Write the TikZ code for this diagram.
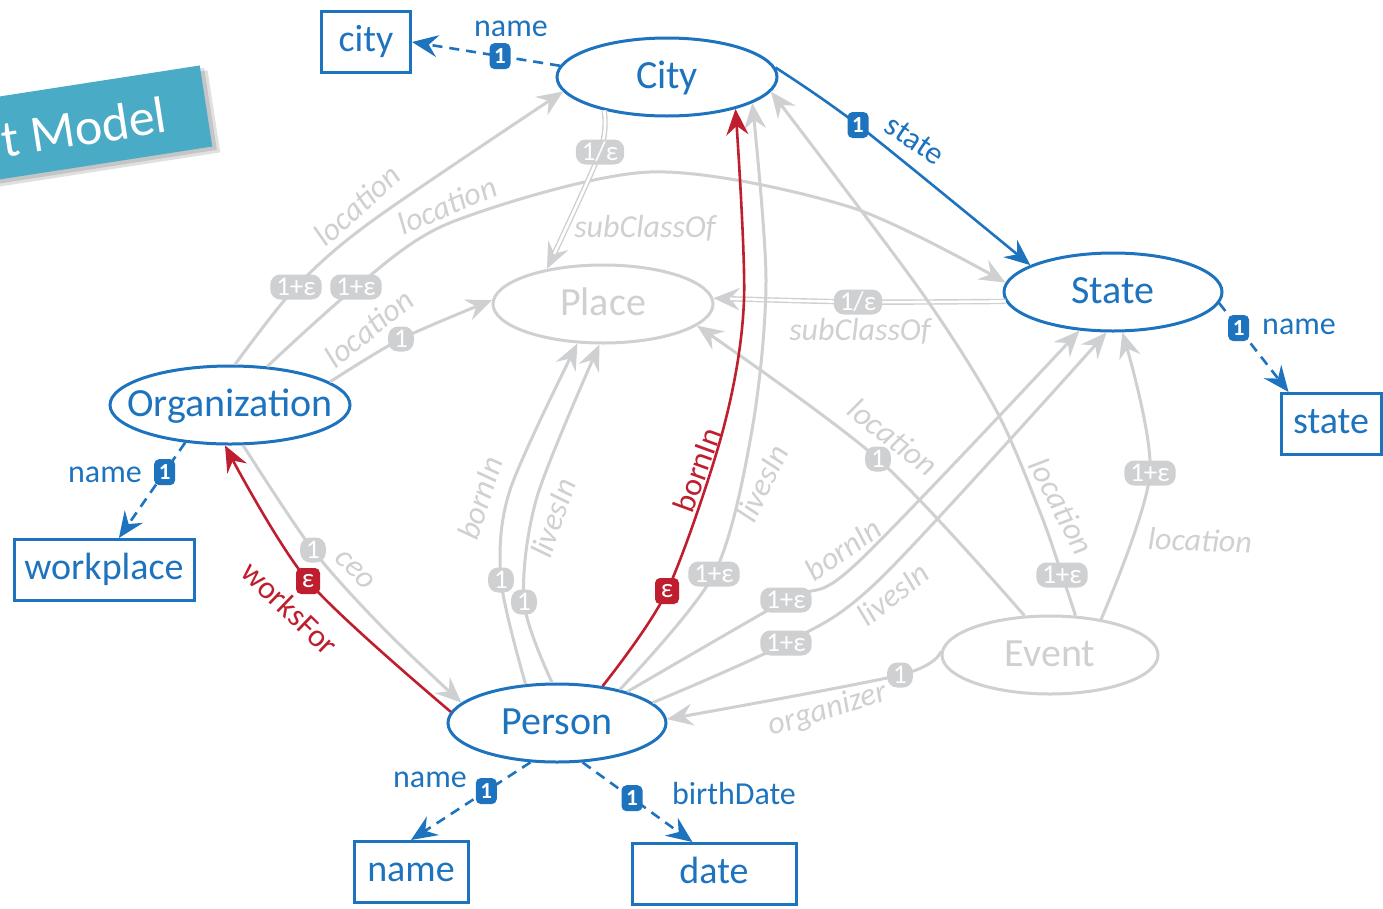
\documentclass[tikz,border=0pt]{standalone}
\usepackage{fontspec}
\setmainfont{Carlito}
\usetikzlibrary{arrows.meta,shapes.geometric}

\definecolor{kblue}{HTML}{1E73BE}
\definecolor{kred}{HTML}{BE1E2D}
\definecolor{kgrey}{HTML}{CFD0D2}
\definecolor{kteal}{HTML}{4AABC6}

% class names are centred without widening the ellipse
\newcommand\ctr[1]{\makebox[0pt]{#1}}

\begin{document}
\begin{tikzpicture}[x=1pt,y=-1pt,
  mytip/.style={-{Stealth[length=26pt,width=22pt,inset=9pt]}},
  cls/.style={ellipse, draw=kblue, fill=white, line width=3pt, text=kblue, inner sep=0pt,
    minimum width=220pt, minimum height=78pt, text height=24pt, text depth=2pt,
    font=\fontsize{40}{44}\selectfont},
  gcls/.style={cls, draw=kgrey, text=kgrey},
  lit/.style={rectangle, draw=kblue, line width=3pt, text=kblue, inner sep=0pt,
    minimum height=61pt, text height=20pt, text depth=2pt, font=\fontsize{38}{42}\selectfont},
  gedge/.style={draw=kgrey, line width=3pt, mytip},
  dbl/.style={draw=kgrey, line width=5.4pt, mytip,
    postaction={draw=white, line width=2.6pt, -, shorten >=19pt}},
  bedge/.style={draw=kblue, line width=2.6pt, mytip},
  bdash/.style={bedge, dash pattern=on 10pt off 7pt},
  redge/.style={draw=kred, line width=2.6pt, mytip},
  gbadge/.style={fill=kgrey, text=white, rounded corners=10pt, inner xsep=6pt, inner ysep=0pt,
    minimum height=25pt, minimum width=21pt, text height=18pt, text depth=1pt,
    font=\fontsize{27}{27}\selectfont},
  bbadge/.style={fill=kblue, text=white, rounded corners=5pt, inner sep=0pt,
    minimum width=21pt, minimum height=26pt, font=\bfseries\fontsize{23}{23}\selectfont},
  rbadge/.style={fill=kred, text=white, rounded corners=5pt, inner sep=0pt,
    minimum width=24pt, minimum height=26pt, font=\fontsize{27}{27}\selectfont},
  glab/.style={text=kgrey, font=\itshape\fontsize{32}{32}\selectfont, inner sep=0pt},
  blab/.style={text=kblue, font=\fontsize{32}{32}\selectfont, inner sep=0pt},
  rlab/.style={text=kred, font=\fontsize{32}{32}\selectfont, inner sep=0pt},
]
\useasboundingbox (0,0) rectangle (1383,908);
\clip (0,0) rectangle (1383,908);

% title banner
\begin{scope}[rotate around={8.8:(206,106)}]
  \fill[black, opacity=.12] (-130,71) rectangle (213,154);
  \fill[black, opacity=.12] (-130,68) rectangle (210,151);
  \fill[kteal] (-130,65) rectangle (206,147);
\end{scope}
\node[rotate=8.8, anchor=base east, text=white, inner sep=0pt,
  font=\fontsize{52}{52}\selectfont] (title) at (169,132) {t Model};

% classes
\node[cls] (City) at (667,77) {\ctr{City}};
\node[gcls] (Place) at (603,304) {\ctr{Place}};
\node[cls, minimum width=218pt] (State) at (1113,292) {\ctr{State}};
\node[cls, minimum width=240pt] (Org) at (230,405) {\ctr{Organization}};
\node[cls, minimum width=218pt] (Person) at (557,723) {\ctr{Person}};
\node[gcls, minimum width=216pt] (Event) at (1050,655) {\ctr{Event}};

% literal types
\node[lit, minimum width=89pt] (cityB) at (366,42) {city};
\node[lit, minimum width=100pt] (stateB) at (1331,424) {state};
\node[lit, minimum width=180pt] (workB) at (104,570) {workplace};
\node[lit, minimum width=114pt] (nameB) at (411,872) {name};
\node[lit, minimum width=164pt] (dateB) at (714,874) {date};

% points where the cardinality marks sit
\coordinate (gA) at (296,287);
\coordinate (gB) at (356,287);
\coordinate (gC) at (401,339);
\coordinate (gD) at (313,550);
\coordinate (gE) at (600,152);
\coordinate (gF) at (858,302);
\coordinate (gG) at (501,580);
\coordinate (gH) at (524,602);
\coordinate (gI) at (714,574);
\coordinate (gJ) at (786,600);
\coordinate (gK) at (786,643);
\coordinate (gL) at (900,675);
\coordinate (gM) at (878,459);
\coordinate (gN) at (1062,575);
\coordinate (gO) at (1150,473);
\coordinate (rA) at (667,591);
\coordinate (rB) at (308,581);
\coordinate (bA) at (858,125);

% grey relations
\draw[gedge] plot[smooth] coordinates {(Org.83) (gA) (372,221) (City.188)};
\draw[gedge] plot[smooth] coordinates {(Org.46) (gB) (452,222) (650,172) (850,207) (State.175)};
\draw[gedge] plot[smooth] coordinates {(Org.13) (gC) (Place.178)};
\draw[gedge] plot[smooth] coordinates {(Org.-72) (gD) (385,630) (Person.168)};
\draw[dbl] plot[smooth] coordinates {(City.208) (gE) (Place.148)};
\draw[dbl] plot[smooth] coordinates {(State.185) (gF) (Place.3)};
\draw[gedge] plot[smooth] coordinates {(Person.129) (gG) (510,490) (Place.237)};
\draw[gedge] plot[smooth] coordinates {(Person.97) (gH) (537,497) (Place.265)};
\draw[gedge] plot[smooth] coordinates {(Person.28) (gI) (752,430) (766,280) (City.-17)};
\draw[gedge] plot[smooth] coordinates {(Person.24) (gJ) (855,565) (State.229)};
\draw[gedge] plot[smooth] coordinates {(Person.12) (gK) (881,578) (State.261)};
\draw[gedge] plot[smooth] coordinates {(Event.178) (gL) (Person.2)};
\draw[gedge] plot[smooth] coordinates {(Event.123) (gM) (Place.-13)};
\draw[gedge] plot[smooth] coordinates {(Event.57) (gN) (1040,512) (996,410) (920,290) (City.-8)};
\draw[gedge] plot[smooth] coordinates {(Event.35) (gO) (State.283)};

% red relations
\draw[redge] plot[smooth] coordinates {(Person.39) (rA) (723,430) (744,300) (City.-25)};
\draw[redge] plot[smooth] coordinates {(Person.174) (rB) (Org.263)};

% blue relations
\draw[bedge] plot[smooth] coordinates {(City.5) (bA) (State.162)};
\draw[bdash] (City.174) -- node[bbadge, pos=0.405] (bB) {1} (cityB.east);
\draw[bdash] (State.-6) -- node[bbadge, pos=0.28] (bC) {1} (stateB.143);
\draw[bdash] (Org.220) -- node[bbadge, pos=0.31] (bD) {1} (workB.65);
\draw[bdash] (Person.236) -- node[bbadge, pos=0.37] (bE) {1} (nameB.north);
\draw[bdash] (Person.-57) -- node[bbadge, pos=0.45] (bF) {1} (dateB.124);

% cardinality marks
\node[bbadge] (mbA) at (bA) {1};
\node[rbadge] (mrA) at (rA) {ε};
\node[rbadge] (mrB) at (rB) {ε};
\node[gbadge] (mgA) at (gA) {1+ε};
\node[gbadge] (mgB) at (gB) {1+ε};
\node[gbadge] (mgC) at (gC) {1};
\node[gbadge] (mgD) at (gD) {1};
\node[gbadge] (mgE) at (gE) {1/ε};
\node[gbadge] (mgF) at (gF) {1/ε};
\node[gbadge] (mgG) at (gG) {1};
\node[gbadge] (mgH) at (gH) {1};
\node[gbadge] (mgI) at (gI) {1+ε};
\node[gbadge] (mgJ) at (gJ) {1+ε};
\node[gbadge] (mgK) at (gK) {1+ε};
\node[gbadge] (mgL) at (gL) {1};
\node[gbadge] (mgM) at (gM) {1};
\node[gbadge] (mgN) at (gN) {1+ε};
\node[gbadge] (mgO) at (gO) {1+ε};

% property names
\node[blab] (l1) at (511,29) {name};
\node[blab, rotate=-34] (l2) at (915,140) {state};
\node[blab] (l3) at (1299,327) {name};
\node[blab] (l4) at (105,475) {name};
\node[blab] (l5) at (430,780) {name};
\node[blab] (l6) at (734,793) {birthDate};
\node[rlab, rotate=70] (l7) at (697,470) {bornIn};
\node[rlab, rotate=-44] (l8) at (290,608) {worksFor};
\node[glab, rotate=42] (l9) at (357,205) {location};
\node[glab, rotate=23] (l10) at (447,205) {location};
\node[glab, rotate=39] (l11) at (369,328) {location};
\node[glab, rotate=-46] (l12) at (355,570) {ceo};
\node[glab] (l13) at (645,228) {subClassOf};
\node[glab] (l14) at (860,331) {subClassOf};
\node[glab, rotate=72] (l15) at (480,498) {bornIn};
\node[glab, rotate=71] (l16) at (553,518) {livesIn};
\node[glab, rotate=64] (l17) at (762,483) {livesIn};
\node[glab, rotate=-38] (l18) at (893,437) {location};
\node[glab, rotate=35] (l19) at (843,549) {bornIn};
\node[glab, rotate=38] (l20) at (893,594) {livesIn};
\node[glab, rotate=-62] (l21) at (1062,506) {location};
\node[glab, rotate=-2] (l22) at (1200,540) {location};
\node[glab, rotate=17] (l23) at (828,710) {organizer};
\end{tikzpicture}
\end{document}
